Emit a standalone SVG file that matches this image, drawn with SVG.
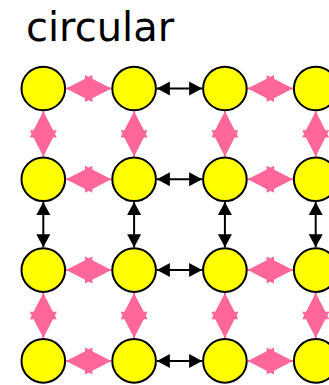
<svg xmlns="http://www.w3.org/2000/svg" width="329" height="385" viewBox="0 0 329 385">
  <style>
    .node { fill: #ffff00; stroke: #000; stroke-width: 2; }
    .title { font-family: "DejaVu Sans", "Liberation Sans", sans-serif; font-size: 40px; fill: #000; }
    .pink { stroke: #ff6699; stroke-width: 2; fill: none; marker-start: url(#pinkHead); marker-end: url(#pinkHead); }
    .black { stroke: #000; stroke-width: 2; fill: none; marker-start: url(#blackHead); marker-end: url(#blackHead); }
  </style>
  <defs>
    <marker id="pinkHead" markerUnits="userSpaceOnUse" viewBox="0 -13.5 26.3 27" markerWidth="26.3" markerHeight="27" refX="26.3" refY="0" orient="auto-start-reverse" overflow="visible">
      <path d="M0,-13.5 L26.3,0 L0,13.5 Z" fill="#ff6699"/>
    </marker>
    <marker id="blackHead" markerUnits="userSpaceOnUse" viewBox="0 -7 13 14" markerWidth="13" markerHeight="14" refX="13" refY="0" orient="auto-start-reverse" overflow="visible">
      <path d="M0,-7 L13,0 L0,7 Z" fill="#000"/>
    </marker>
  </defs>

  <rect width="329" height="385" fill="#fff"/>
  <text class="title" x="26" y="41">circular</text>

  <!-- links: columns at x 43.3/134.1/224.9/315.7, rows at y 88.5/179.3/270.1/360.9 -->
  <g id="connectors">
    <!-- horizontal links -->
    <line class="pink" x1="66.1" y1="88.5" x2="111.3" y2="88.5"/>
    <line class="black" x1="156.9" y1="88.5" x2="202.1" y2="88.5"/>
    <line class="pink" x1="247.7" y1="88.5" x2="292.9" y2="88.5"/>

    <line class="pink" x1="66.1" y1="179.3" x2="111.3" y2="179.3"/>
    <line class="black" x1="156.9" y1="179.3" x2="202.1" y2="179.3"/>
    <line class="pink" x1="247.7" y1="179.3" x2="292.9" y2="179.3"/>

    <line class="pink" x1="66.1" y1="270.1" x2="111.3" y2="270.1"/>
    <line class="black" x1="156.9" y1="270.1" x2="202.1" y2="270.1"/>
    <line class="pink" x1="247.7" y1="270.1" x2="292.9" y2="270.1"/>

    <line class="pink" x1="66.1" y1="360.9" x2="111.3" y2="360.9"/>
    <line class="black" x1="156.9" y1="360.9" x2="202.1" y2="360.9"/>
    <line class="pink" x1="247.7" y1="360.9" x2="292.9" y2="360.9"/>

    <!-- vertical links -->
    <line class="pink" x1="43.3" y1="111.3" x2="43.3" y2="156.5"/>
    <line class="pink" x1="134.1" y1="111.3" x2="134.1" y2="156.5"/>
    <line class="pink" x1="224.9" y1="111.3" x2="224.9" y2="156.5"/>
    <line class="pink" x1="315.7" y1="111.3" x2="315.7" y2="156.5"/>

    <line class="black" x1="43.3" y1="202.1" x2="43.3" y2="247.3"/>
    <line class="black" x1="134.1" y1="202.1" x2="134.1" y2="247.3"/>
    <line class="black" x1="224.9" y1="202.1" x2="224.9" y2="247.3"/>
    <line class="black" x1="315.7" y1="202.1" x2="315.7" y2="247.3"/>

    <line class="pink" x1="43.3" y1="292.9" x2="43.3" y2="338.1"/>
    <line class="pink" x1="134.1" y1="292.9" x2="134.1" y2="338.1"/>
    <line class="pink" x1="224.9" y1="292.9" x2="224.9" y2="338.1"/>
    <line class="pink" x1="315.7" y1="292.9" x2="315.7" y2="338.1"/>
  </g>

  <g id="n00"><circle class="node" cx="43.3" cy="88.5" r="21.8"/></g>
  <g id="n01"><circle class="node" cx="134.1" cy="88.5" r="21.8"/></g>
  <g id="n02"><circle class="node" cx="224.9" cy="88.5" r="21.8"/></g>
  <g id="n03"><circle class="node" cx="315.7" cy="88.5" r="21.8"/></g>

  <g id="n10"><circle class="node" cx="43.3" cy="179.3" r="21.8"/></g>
  <g id="n11"><circle class="node" cx="134.1" cy="179.3" r="21.8"/></g>
  <g id="n12"><circle class="node" cx="224.9" cy="179.3" r="21.8"/></g>
  <g id="n13"><circle class="node" cx="315.7" cy="179.3" r="21.8"/></g>

  <g id="n20"><circle class="node" cx="43.3" cy="270.1" r="21.8"/></g>
  <g id="n21"><circle class="node" cx="134.1" cy="270.1" r="21.8"/></g>
  <g id="n22"><circle class="node" cx="224.9" cy="270.1" r="21.8"/></g>
  <g id="n23"><circle class="node" cx="315.7" cy="270.1" r="21.8"/></g>

  <g id="n30"><circle class="node" cx="43.3" cy="360.9" r="21.8"/></g>
  <g id="n31"><circle class="node" cx="134.1" cy="360.9" r="21.8"/></g>
  <g id="n32"><circle class="node" cx="224.9" cy="360.9" r="21.8"/></g>
  <g id="n33"><circle class="node" cx="315.7" cy="360.9" r="21.8"/></g>
</svg>
